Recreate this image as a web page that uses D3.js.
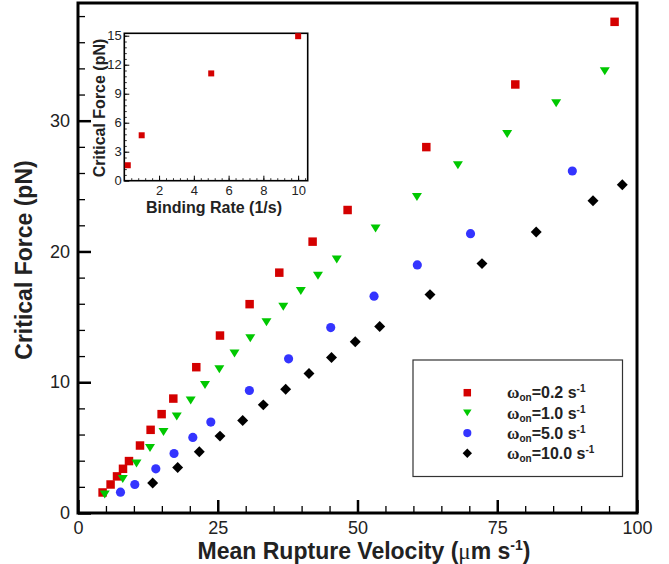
<!DOCTYPE html>
<html>
<head>
<meta charset="utf-8">
<script src="https://cdn.jsdelivr.net/npm/d3@7"></script>
<style>
  body { margin: 0; background: #fff; }
  svg { display: block; font-family: "Liberation Sans", Arial, Helvetica, sans-serif; }
</style>
</head>
<body>
<div id="chart"></div>
<script>
// values (velocity in um/s, force in pN)
const velRed = [4.40, 5.83, 6.98, 8.05, 9.12, 11.09, 12.99, 14.96, 17.05, 21.16, 25.40, 30.70, 36.01, 41.97, 48.23, 62.31, 78.23, 95.99];
const forceRed = [1.57, 2.18, 2.80, 3.38, 3.97, 5.16, 6.36, 7.56, 8.75, 11.15, 13.57, 15.97, 18.38, 20.75, 23.17, 27.98, 32.77, 37.56];

const velGreen = [4.78, 8.00, 10.47, 12.88, 15.30, 17.66, 20.16, 22.72, 25.28, 28.00, 30.82, 33.72, 36.72, 39.86, 42.93, 46.29, 53.23, 60.63, 67.96, 76.78, 85.54, 94.24];
const forceGreen = [1.42, 2.60, 3.78, 4.97, 6.19, 7.38, 8.60, 9.78, 11.00, 12.19, 13.37, 14.59, 15.78, 16.98, 18.15, 19.39, 21.76, 24.16, 26.59, 28.98, 31.34, 33.79];

const velBlue = [7.60, 10.16, 13.92, 17.18, 20.54, 23.76, 30.66, 37.67, 45.21, 52.96, 60.70, 70.22, 88.43];
const forceBlue = [1.59, 2.18, 3.38, 4.55, 5.78, 6.95, 9.37, 11.79, 14.18, 16.58, 18.97, 21.36, 26.15];

const velBlack = [13.36, 17.83, 21.70, 25.40, 29.46, 33.15, 37.15, 41.32, 45.35, 49.60, 53.97, 62.97, 72.27, 81.97, 92.13, 97.37];
const forceBlack = [2.29, 3.48, 4.68, 5.88, 7.07, 8.27, 9.47, 10.66, 11.89, 13.09, 14.26, 16.70, 19.07, 21.49, 23.88, 25.10];

const rateLabels = ["0.2", "1.0", "5.0", "10.0"];

// inset: critical force vs binding rate
const insetRate = [0.2, 1.0, 5.0, 10.0];
const insetForce = [1.6, 4.7, 11.1, 14.95];

// ticks
const xMajor = [0, 25, 50, 75, 100];
const xMinor = d3.range(5, 100, 5).filter(v => v % 25 !== 0);
const yMajor = [0, 10, 20, 30];
const yMinor = d3.range(2, 40, 2).filter(v => v % 10 !== 0);
const insetXMajor = [2, 4, 6, 8, 10];
const insetXMinor = d3.range(0.4, 10.5, 0.4);
const insetYMajor = [0, 3, 6, 9, 12, 15];
const insetYMinor = d3.range(0.6, 15.2, 0.6);

const W = 669, H = 564;
const textColor = "#222";

const svg = d3.select("#chart").append("svg")
  .attr("width", W)
  .attr("height", H);

// main scales
const x = d3.scaleLinear().domain([0, 100]).range([78, 637]);
const y = d3.scaleLinear().domain([0, 39]).range([513, 3]);

// downward triangle centred on its box
const triangleDown = {
  draw(context, size) {
    const s = Math.sqrt(size);
    const h = s * 0.8;
    context.moveTo(-s / 2, -h / 2);
    context.lineTo(s / 2, -h / 2);
    context.lineTo(0, h / 2);
    context.closePath();
  }
};

const series = [
  { vel: velRed, force: forceRed, color: "#d40000", type: d3.symbolSquare, size: 72, rot: 0, legSize: 56 },
  { vel: velGreen, force: forceGreen, color: "#00c800", type: triangleDown, size: 100, rot: 0, legSize: 72 },
  { vel: velBlue, force: forceBlue, color: "#3434ff", type: d3.symbolCircle, size: 66, rot: 0, legSize: 52 },
  { vel: velBlack, force: forceBlack, color: "#000", type: d3.symbolSquare, size: 60, rot: 45, legSize: 44 }
];

// axes with inward ticks
function styleAxis(g, width) {
  g.select(".domain").remove();
  g.selectAll(".tick line").attr("stroke", "#000").attr("stroke-width", width);
  g.selectAll(".tick text")
    .attr("fill", textColor)
    .style("font-size", "18px")
    .style("font-family", "'Liberation Sans', Arial, sans-serif");
}

svg.append("g")
  .attr("transform", "translate(0,513)")
  .call(d3.axisBottom(x).tickValues(xMinor).tickSize(-7).tickFormat(""))
  .call(g => styleAxis(g, 1.3));

svg.append("g")
  .attr("transform", "translate(0,513)")
  .call(d3.axisBottom(x).tickValues(xMajor).tickSize(-13).tickPadding(8))
  .call(g => styleAxis(g, 2.5));

svg.append("g")
  .attr("transform", "translate(78,0)")
  .call(d3.axisLeft(y).tickValues(yMinor).tickSize(-7).tickFormat(""))
  .call(g => styleAxis(g, 1.3));

svg.append("g")
  .attr("transform", "translate(78,0)")
  .call(d3.axisLeft(y).tickValues(yMajor).tickSize(-13).tickPadding(8))
  .call(g => styleAxis(g, 2.5));

// plot frame
svg.append("rect")
  .attr("x", x(0))
  .attr("y", y(39))
  .attr("width", x(100) - x(0))
  .attr("height", y(0) - y(39))
  .attr("fill", "none")
  .attr("stroke", "#000")
  .attr("stroke-width", 3);

// axis titles
svg.append("text")
  .attr("x", 364)
  .attr("y", 558.5)
  .attr("text-anchor", "middle")
  .attr("fill", textColor)
  .style("font-size", "23px")
  .style("font-weight", "bold")
  .call(t => {
    t.append("tspan").text("Mean Rupture Velocity (");
    t.append("tspan").style("font-family", "'Liberation Serif', serif").style("font-weight", "normal").text("\u03bc");
    t.append("tspan").text("m s");
    t.append("tspan").attr("dy", -9).style("font-size", "14px").text("-1");
    t.append("tspan").attr("dy", 9).text(")");
  });

svg.append("text")
  .attr("transform", "translate(32,260) rotate(-90)")
  .attr("text-anchor", "middle")
  .attr("fill", textColor)
  .style("font-size", "23px")
  .style("font-weight", "bold")
  .text("Critical Force (pN)");

// data points
series.forEach(s => {
  const sym = d3.symbol().type(s.type).size(s.size);
  svg.append("g").selectAll("path")
    .data(d3.zip(s.vel, s.force))
    .join("path")
    .attr("d", sym)
    .attr("fill", s.color)
    .attr("transform", d => `translate(${x(d[0])},${y(d[1])}) rotate(${s.rot})`);
});

// legend
const legend = svg.append("g");
legend.append("rect")
  .attr("x", 413)
  .attr("y", 360)
  .attr("width", 209.5)
  .attr("height", 116.5)
  .attr("fill", "#fff")
  .attr("stroke", "#333")
  .attr("stroke-width", 1.2);

series.forEach((s, i) => {
  const ly = 392.7 + i * 20.2;
  legend.append("path")
    .attr("d", d3.symbol().type(s.type).size(s.legSize))
    .attr("fill", s.color)
    .attr("transform", `translate(467.3,${ly}) rotate(${s.rot})`);
  const t = legend.append("text")
    .attr("x", 507)
    .attr("y", ly + 5.6)
    .attr("fill", textColor)
    .style("font-weight", "bold")
    .style("font-size", "16px");
  t.append("tspan").style("font-family", "'Liberation Serif', serif").style("font-size", "17px").text("\u03c9");
  t.append("tspan").attr("dy", 3).style("font-size", "10px").text("on");
  t.append("tspan").attr("dy", -3).text(`=${rateLabels[i]} s`);
  t.append("tspan").attr("dy", -6).style("font-size", "10px").text("-1");
});

// inset
const ix = d3.scaleLinear().domain([0, 10.55]).range([124.3, 307.7]);
const iy = d3.scaleLinear().domain([0, 15.25]).range([180.7, 33.3]);

const inset = svg.append("g");
inset.append("rect")
  .attr("x", ix(0))
  .attr("y", iy(15.25))
  .attr("width", ix(10.55) - ix(0))
  .attr("height", iy(0) - iy(15.25))
  .attr("fill", "#fff");

function styleInsetAxis(g, width) {
  g.select(".domain").remove();
  g.selectAll(".tick line").attr("stroke", "#000").attr("stroke-width", width);
  g.selectAll(".tick text")
    .attr("fill", textColor)
    .style("font-size", "13px")
    .style("font-family", "'Liberation Sans', Arial, sans-serif");
}

inset.append("g")
  .attr("transform", `translate(0,${iy(0)})`)
  .call(d3.axisBottom(ix).tickValues(insetXMinor).tickSize(-2.5).tickFormat(""))
  .call(g => styleInsetAxis(g, 0.8));
inset.append("g")
  .attr("transform", `translate(0,${iy(0)})`)
  .call(d3.axisBottom(ix).tickValues(insetXMajor).tickSize(-5).tickPadding(5))
  .call(g => styleInsetAxis(g, 1));
inset.append("g")
  .attr("transform", `translate(${ix(0)},0)`)
  .call(d3.axisLeft(iy).tickValues(insetYMinor).tickSize(-2.5).tickFormat(""))
  .call(g => styleInsetAxis(g, 0.8));
inset.append("g")
  .attr("transform", `translate(${ix(0)},0)`)
  .call(d3.axisLeft(iy).tickValues(insetYMajor).tickSize(-5).tickPadding(2.5))
  .call(g => styleInsetAxis(g, 1));

inset.append("rect")
  .attr("x", ix(0))
  .attr("y", iy(15.25))
  .attr("width", ix(10.55) - ix(0))
  .attr("height", iy(0) - iy(15.25))
  .attr("fill", "none")
  .attr("stroke", "#000")
  .attr("stroke-width", 1.6);

inset.append("g").selectAll("path")
  .data(d3.zip(insetRate, insetForce))
  .join("path")
  .attr("d", d3.symbol().type(d3.symbolSquare).size(36))
  .attr("fill", "#d40000")
  .attr("transform", d => `translate(${ix(d[0])},${iy(d[1])})`);

inset.append("text")
  .attr("x", 214)
  .attr("y", 213.3)
  .attr("text-anchor", "middle")
  .attr("fill", textColor)
  .style("font-size", "16px")
  .style("font-weight", "bold")
  .text("Binding Rate (1/s)");

inset.append("text")
  .attr("transform", "translate(105,108) rotate(-90)")
  .attr("text-anchor", "middle")
  .attr("fill", textColor)
  .style("font-size", "16px")
  .style("font-weight", "bold")
  .text("Critical Force (pN)");
</script>
</body>
</html>
